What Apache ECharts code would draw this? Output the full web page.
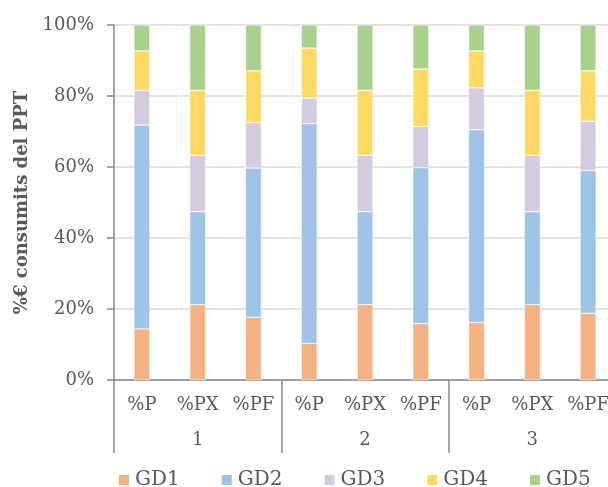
<!DOCTYPE html>
<html>
<head>
<meta charset="utf-8">
<script src="https://cdn.jsdelivr.net/npm/echarts@6/dist/echarts.min.js"></script>
<style>html,body{margin:0;padding:0;background:#fff;overflow:hidden}#c{width:620px;height:487px}</style>
</head>
<body>
<div id="c"></div>
<script>
const subCategories = ['%P','%PX','%PF','%P','%PX','%PF','%P','%PX','%PF'];
const groups = ['1','2','3'];
const yTicks = [0,20,40,60,80,100];
const GD1 = [14.4, 21.2, 17.7, 10.3, 21.2, 15.9, 16.2, 21.2, 18.8];
const GD2 = [57.4, 26.2, 42.0, 61.9, 26.2, 43.9, 54.3, 26.2, 40.2];
const GD3 = [9.8, 15.9, 12.8, 7.2, 15.9, 11.6, 11.8, 15.9, 13.9];
const GD4 = [11.1, 18.3, 14.6, 14.1, 18.3, 16.2, 10.4, 18.3, 14.2];
const GD5 = [7.3, 18.4, 12.9, 6.5, 18.4, 12.4, 7.3, 18.4, 12.9];
const seriesNames = ['GD1','GD2','GD3','GD4','GD5'];
const seriesData = [GD1, GD2, GD3, GD4, GD5];
const colors = ['#F4B183','#9DC3E6','#D5CBDF','#FFD966','#A9D18E'];

const FONT = 'DejaVu Serif';
const TXT = '#595959';
const AX = '#898989';

const chart = echarts.init(document.getElementById('c'));
chart.setOption({
  animation: false,
  color: colors,
  grid: { left: 114, width: 502, top: 25, bottom: 107, containLabel: false },
  legend: {
    top: 465, left: 112,
    itemWidth: 12, itemHeight: 12, itemGap: 40,
    icon: 'rect',
    textStyle: { fontFamily: FONT, fontSize: 20, color: TXT },
    data: seriesNames
  },
  xAxis: [
    {
      type: 'category', data: subCategories, position: 'bottom',
      axisLine: { show: true, lineStyle: { color: AX, width: 1.5 } },
      axisTick: { show: false },
      axisLabel: { fontFamily: FONT, fontSize: 18, color: TXT, margin: 16, interval: 0 }
    },
    {
      type: 'category', data: groups, position: 'bottom',
      axisLine: { show: false },
      axisTick: { show: true, length: 73, lineStyle: { color: AX, width: 1.5 } },
      axisLabel: { fontFamily: FONT, fontSize: 18, color: TXT, margin: 51, interval: 0 }
    }
  ],
  yAxis: {
    type: 'value', min: yTicks[0], max: yTicks[yTicks.length-1], interval: 20,
    name: '%€ consumits del PPT', nameLocation: 'middle', nameGap: 80,
    nameTextStyle: { fontFamily: FONT, fontSize: 18, fontWeight: 'bold', color: TXT },
    axisLine: { show: true, lineStyle: { color: AX, width: 1.5 } },
    axisTick: { show: true, length: 7, lineStyle: { color: AX, width: 1.5 } },
    axisLabel: { fontFamily: FONT, fontSize: 18, color: TXT, margin: 20, formatter: v => v + '%' },
    splitLine: { show: true, lineStyle: { color: '#d9d9d9', width: 1.5 } }
  },
  series: seriesNames.map((n, i) => ({
    name: n, type: 'bar', stack: 'total', xAxisIndex: 0,
    barWidth: 16,
    data: seriesData[i],
    itemStyle: { borderColor: '#ffffff', borderWidth: 0.5 }
  }))
});
</script>
</body>
</html>
